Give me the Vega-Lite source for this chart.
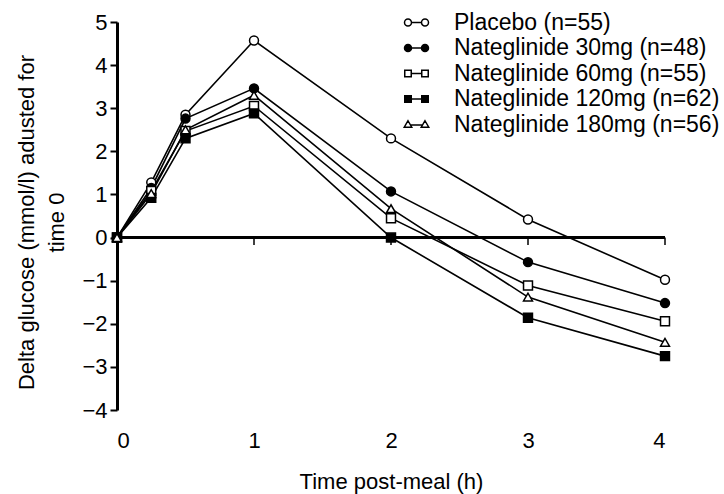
{
  "$schema": "https://vega.github.io/schema/vega-lite/v6.json",
  "width": 548,
  "height": 388,
  "autosize": "none",
  "padding": {"left": 117, "top": 22, "right": 59, "bottom": 84},
  "config": {
    "view": {"stroke": null},
    "font": "Liberation Sans",
    "axis": {"grid": false, "labelColor": "black", "titleColor": "black", "labelFont": "Liberation Sans", "titleFont": "Liberation Sans", "labelFontSize": 22, "titleFontSize": 22, "titleFontWeight": "normal"},
    "legend": {"labelFont": "Liberation Sans", "labelFontSize": 23, "labelColor": "black", "labelLimit": 0}
  },
  "datasets": {
    "glucose": [
      {"series": "Placebo (n=55)", "t": 0, "v": 0},
      {"series": "Placebo (n=55)", "t": 0.25, "v": 1.28},
      {"series": "Placebo (n=55)", "t": 0.5, "v": 2.85},
      {"series": "Placebo (n=55)", "t": 1, "v": 4.57},
      {"series": "Placebo (n=55)", "t": 2, "v": 2.3},
      {"series": "Placebo (n=55)", "t": 3, "v": 0.42},
      {"series": "Placebo (n=55)", "t": 4, "v": -0.98},
      {"series": "Nateglinide 30mg (n=48)", "t": 0, "v": 0},
      {"series": "Nateglinide 30mg (n=48)", "t": 0.25, "v": 1.15},
      {"series": "Nateglinide 30mg (n=48)", "t": 0.5, "v": 2.76},
      {"series": "Nateglinide 30mg (n=48)", "t": 1, "v": 3.46},
      {"series": "Nateglinide 30mg (n=48)", "t": 2, "v": 1.07},
      {"series": "Nateglinide 30mg (n=48)", "t": 3, "v": -0.57},
      {"series": "Nateglinide 30mg (n=48)", "t": 4, "v": -1.52},
      {"series": "Nateglinide 60mg (n=55)", "t": 0, "v": 0},
      {"series": "Nateglinide 60mg (n=55)", "t": 0.25, "v": 1.08},
      {"series": "Nateglinide 60mg (n=55)", "t": 0.5, "v": 2.47},
      {"series": "Nateglinide 60mg (n=55)", "t": 1, "v": 3.05},
      {"series": "Nateglinide 60mg (n=55)", "t": 2, "v": 0.45},
      {"series": "Nateglinide 60mg (n=55)", "t": 3, "v": -1.11},
      {"series": "Nateglinide 60mg (n=55)", "t": 4, "v": -1.94},
      {"series": "Nateglinide 120mg (n=62)", "t": 0, "v": 0},
      {"series": "Nateglinide 120mg (n=62)", "t": 0.25, "v": 0.92},
      {"series": "Nateglinide 120mg (n=62)", "t": 0.5, "v": 2.3},
      {"series": "Nateglinide 120mg (n=62)", "t": 1, "v": 2.88},
      {"series": "Nateglinide 120mg (n=62)", "t": 2, "v": 0.0},
      {"series": "Nateglinide 120mg (n=62)", "t": 3, "v": -1.86},
      {"series": "Nateglinide 120mg (n=62)", "t": 4, "v": -2.75},
      {"series": "Nateglinide 180mg (n=56)", "t": 0, "v": 0},
      {"series": "Nateglinide 180mg (n=56)", "t": 0.25, "v": 1.02},
      {"series": "Nateglinide 180mg (n=56)", "t": 0.5, "v": 2.5},
      {"series": "Nateglinide 180mg (n=56)", "t": 1, "v": 3.3},
      {"series": "Nateglinide 180mg (n=56)", "t": 2, "v": 0.67},
      {"series": "Nateglinide 180mg (n=56)", "t": 3, "v": -1.38},
      {"series": "Nateglinide 180mg (n=56)", "t": 4, "v": -2.43}
    ],
    "hourTicks": [{"t": 1}, {"t": 2}, {"t": 3}, {"t": 4}],
    "zero": [{"y": 0}]
  },
  "resolve": {"scale": {"shape": "independent", "fill": "independent"}},
  "layer": [
    {
      "data": {"name": "zero"},
      "mark": {"type": "rule", "color": "black", "strokeWidth": 3},
      "encoding": {
        "y": {"field": "y", "type": "quantitative", "scale": {"domain": [-4, 5], "nice": false}}
      }
    },
    {
      "data": {"name": "hourTicks"},
      "mark": {"type": "rule", "color": "black", "strokeWidth": 1.5},
      "encoding": {
        "x": {"field": "t", "type": "quantitative"},
        "y": {"datum": 0},
        "y2": {"datum": -0.17}
      }
    },
    {
      "data": {"name": "glucose"},
      "mark": {"type": "line", "color": "black", "strokeWidth": 1.6},
      "encoding": {
        "x": {"field": "t", "type": "quantitative"},
        "y": {"field": "v", "type": "quantitative"},
        "detail": {"field": "series"}
      }
    },
    {
      "data": {"name": "glucose"},
      "mark": {"type": "point", "stroke": "black", "strokeWidth": 1.5, "opacity": 1, "size": 80},
      "encoding": {
        "x": {
          "field": "t", "type": "quantitative",
          "scale": {"domain": [0, 4], "nice": false},
          "axis": {"values": [0, 1, 2, 3, 4], "format": "d", "domain": false, "ticks": false, "labelPadding": 20, "title": "Time post-meal (h)", "titlePadding": 20}
        },
        "y": {
          "field": "v", "type": "quantitative",
          "scale": {"domain": [-4, 5], "nice": false},
          "axis": {
            "values": [-4, -3, -2, -1, 0, 1, 2, 3, 4, 5],
            "labelExpr": "replace(datum.label, '-', '\u2212')",
            "domainColor": "black", "domainWidth": 3,
            "tickColor": "black", "tickWidth": 2, "tickSize": 7,
            "labelPadding": 3,
            "title": ["Delta glucose (mmol/l) adusted for", "time 0"],
            "titleX": -91, "titleY": 200, "titleAngle": -90, "titleAlign": "center", "titleBaseline": "middle", "titleLineHeight": 30
          }
        },
        "shape": {
          "field": "series", "type": "nominal",
          "scale": {
            "domain": ["Placebo (n=55)", "Nateglinide 30mg (n=48)", "Nateglinide 60mg (n=55)", "Nateglinide 120mg (n=62)", "Nateglinide 180mg (n=56)"],
            "range": ["circle", "circle", "square", "square", "triangle-up"]
          },
          "legend": null
        },
        "fill": {
          "field": "series", "type": "nominal",
          "scale": {
            "domain": ["Placebo (n=55)", "Nateglinide 30mg (n=48)", "Nateglinide 60mg (n=55)", "Nateglinide 120mg (n=62)", "Nateglinide 180mg (n=56)"],
            "range": ["white", "black", "white", "black", "white"]
          },
          "legend": null
        }
      }
    },
    {
      "data": {"name": "glucose"},
      "transform": [{"filter": "datum.t > 99"}],
      "mark": {"type": "point", "stroke": "black", "strokeWidth": 1.5, "opacity": 1, "size": 100},
      "encoding": {
        "x": {"field": "t", "type": "quantitative"},
        "y": {"field": "v", "type": "quantitative"},
        "shape": {
          "field": "series", "type": "nominal",
          "scale": {
            "domain": ["Placebo (n=55)", "Nateglinide 30mg (n=48)", "Nateglinide 60mg (n=55)", "Nateglinide 120mg (n=62)", "Nateglinide 180mg (n=56)"],
            "range": [
              "M-2.4,0A0.7,0.7,0,1,1,-1,0A0.7,0.7,0,1,1,-2.4,0ZM-1,0L1,0M1,0A0.7,0.7,0,1,1,2.4,0A0.7,0.7,0,1,1,1,0Z",
              "M-2.4,0A0.7,0.7,0,1,1,-1,0A0.7,0.7,0,1,1,-2.4,0ZM-1,0L1,0M1,0A0.7,0.7,0,1,1,2.4,0A0.7,0.7,0,1,1,1,0Z",
              "M-2.35,-0.65L-1.05,-0.65L-1.05,0.65L-2.35,0.65ZM-1.05,0L1.05,0M1.05,-0.65L2.35,-0.65L2.35,0.65L1.05,0.65Z",
              "M-2.35,-0.65L-1.05,-0.65L-1.05,0.65L-2.35,0.65ZM-1.05,0L1.05,0M1.05,-0.65L2.35,-0.65L2.35,0.65L1.05,0.65Z",
              "M-1.7,-0.75L-0.95,0.55L-2.45,0.55ZM-1.2,0.1L1.2,0.1M1.7,-0.75L2.45,0.55L0.95,0.55Z"
            ]
          },
          "legend": {
            "title": null, "orient": "none", "legendX": 288, "legendY": -11,
            "symbolSize": 100, "symbolOpacity": 1, "symbolStrokeWidth": 1.5,
            "labelOffset": 26, "rowPadding": 1.5
          }
        },
        "fill": {
          "field": "series", "type": "nominal",
          "scale": {
            "domain": ["Placebo (n=55)", "Nateglinide 30mg (n=48)", "Nateglinide 60mg (n=55)", "Nateglinide 120mg (n=62)", "Nateglinide 180mg (n=56)"],
            "range": ["white", "black", "white", "black", "white"]
          },
          "legend": {
            "title": null, "orient": "none", "legendX": 288, "legendY": -11,
            "symbolSize": 100, "symbolOpacity": 1, "symbolStrokeWidth": 1.5,
            "labelOffset": 26, "rowPadding": 1.5
          }
        }
      }
    }
  ]
}
